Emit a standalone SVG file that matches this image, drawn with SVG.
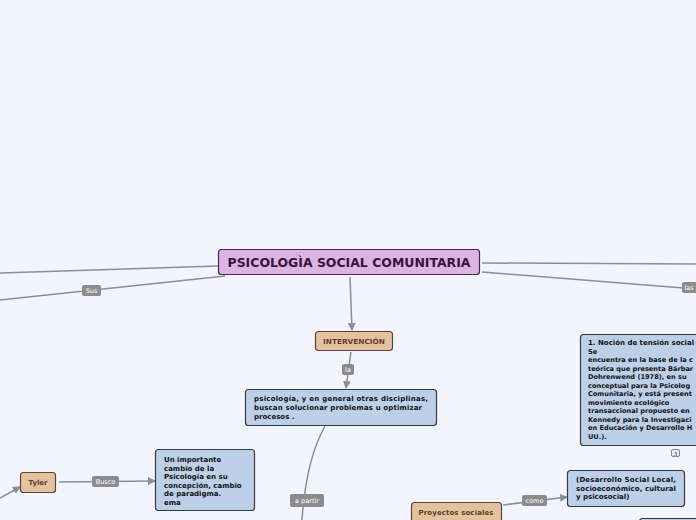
<svg xmlns="http://www.w3.org/2000/svg" width="696" height="520" viewBox="0 0 696 520">
<defs>
<marker id="arr" markerWidth="8" markerHeight="8" refX="7" refY="4" orient="auto" markerUnits="userSpaceOnUse">
<path d="M0,0 L8,4 L0,8 Z" fill="#8a8e96"/>
</marker>
<style>
.ln{fill:none;stroke:#8a8e96;stroke-width:1.5}
.lbl rect{fill:#8c8c8c}
.lbl text{font-family:"DejaVu Sans",Verdana,sans-serif;font-size:6.5px;fill:#ffffff;text-anchor:middle}
.blue{fill:#bdd0e9;stroke:#3a3a3a;stroke-width:1.2}
.tan{fill:#e5c29f;stroke:#5c4636;stroke-width:1.2}
.bt{font-family:"DejaVu Sans",Verdana,sans-serif;font-size:7px;font-weight:bold;fill:#111}
.bs{font-family:"DejaVu Sans",Verdana,sans-serif;font-size:6.6px;font-weight:bold;fill:#111}
.tt{font-family:"DejaVu Sans",Verdana,sans-serif;font-size:7px;font-weight:bold;fill:#5a3e2a;text-anchor:middle}
</style>
</defs>
<rect width="696" height="520" fill="#f2f5fd"/>

<g id="connectors">
<path class="ln" d="M218,266 L0,273"/>
<path class="ln" d="M225,276 L0,300"/>
<path class="ln" d="M482,263 L696,264"/>
<path class="ln" d="M482,272 L696,289"/>
<path class="ln" d="M350,277 L352,330" marker-end="url(#arr)"/>
<path class="ln" d="M351,352 L346,388" marker-end="url(#arr)"/>
<path class="ln" d="M325,426 Q306,460 302,520"/>
<path class="ln" d="M59,482 L155,481" marker-end="url(#arr)"/>
<path class="ln" d="M0,498 L20,487" marker-end="url(#arr)"/>
<path class="ln" d="M503,505 L567,497" marker-end="url(#arr)"/>
<g class="lbl"><rect x="82" y="285" width="19" height="11" rx="2"/><text x="91.5" y="293">Sus</text></g>
<g class="lbl"><rect x="682" y="282" width="16" height="11" rx="2"/><text x="689" y="290">las</text></g>
<g class="lbl"><rect x="342" y="364" width="12" height="11" rx="2"/><text x="348" y="372">la</text></g>
<g class="lbl"><rect x="290" y="494" width="34" height="13" rx="2"/><text x="307" y="503">a partir</text></g>
<g class="lbl"><rect x="92" y="476" width="27" height="11" rx="2"/><text x="105.5" y="484">Busco</text></g>
<g class="lbl"><rect x="522" y="495" width="25" height="11" rx="2"/><text x="534.5" y="503">como</text></g>
</g>

<g id="central">
<rect x="218.5" y="249.5" width="261" height="25" rx="3" fill="#dbb5e1" stroke="#4a2750" stroke-width="1.2"/>
<text x="349" y="266.5" font-family="DejaVu Sans,Verdana,sans-serif" font-size="11.5" font-weight="bold" fill="#3b0f42" text-anchor="middle" textLength="243" lengthAdjust="spacingAndGlyphs">PSICOLOGÌA SOCIAL COMUNITARIA</text>
</g>

<g id="intervencion">
<rect class="tan" x="315.5" y="331.5" width="77" height="19" rx="3"/>
<text class="tt" x="354" y="343.5" textLength="62" lengthAdjust="spacingAndGlyphs">INTERVENCIÓN</text>
</g>

<g id="psicologia">
<rect class="blue" x="245.5" y="389.5" width="191" height="36" rx="3"/>
<text class="bt" x="254" y="401" textLength="174" lengthAdjust="spacing">psicología, y en general otras disciplinas,</text>
<text class="bt" x="254" y="410" textLength="168" lengthAdjust="spacing">buscan solucionar problemas u optimizar</text>
<text class="bt" x="254" y="419">procesos .</text>
</g>

<g id="tyler">
<rect class="tan" x="20.5" y="472.5" width="35" height="20" rx="3"/>
<text class="tt" x="38" y="485">Tyler</text>
</g>

<g id="cambio">
<rect class="blue" x="155.5" y="449.5" width="99" height="61" rx="3"/>
<text class="bt" x="164" y="462">Un importante</text>
<text class="bt" x="164" y="470.5">cambio de la</text>
<text class="bt" x="164" y="479">Psicología en su</text>
<text class="bt" x="164" y="487.5">concepción, cambio</text>
<text class="bt" x="164" y="496">de paradigma.</text>
<text class="bt" x="164" y="504.5">ema</text>
</g>

<g id="tension">
<rect class="blue" x="580.5" y="334.5" width="130" height="111" rx="3"/>
<text class="bt" x="588" y="345">1. Noción de tensión social</text>
<text class="bs" x="588" y="353.5">Se</text>
<text class="bs" x="588" y="362">encuentra en la base de la c</text>
<text class="bs" x="588" y="370.5">teórica que presenta Bárbar</text>
<text class="bs" x="588" y="379">Dohrenwend (1978), en su</text>
<text class="bs" x="588" y="387.5">conceptual para la Psicolog</text>
<text class="bs" x="588" y="396">Comunitaria, y está present</text>
<text class="bs" x="588" y="404.5">movimiento ecológico</text>
<text class="bs" x="588" y="413">transaccional propuesto en</text>
<text class="bs" x="588" y="421.5">Kennedy para la Investigaci</text>
<text class="bs" x="588" y="430">en Educación y Desarrollo H</text>
<text class="bs" x="588" y="438.5">UU.).</text>
<rect x="671.5" y="449.5" width="8" height="7" rx="1.5" fill="#e8ecf5" stroke="#6a6e78" stroke-width="0.8"/>
<text x="675.5" y="455.5" font-family="DejaVu Sans,sans-serif" font-size="5.5" fill="#333" text-anchor="middle">3</text>
</g>

<g id="proyectos">
<rect class="tan" x="411.5" y="502.5" width="90" height="24" rx="3"/>
<text class="tt" x="456" y="515" textLength="75" lengthAdjust="spacing">Proyectos sociales</text>
</g>

<g id="desarrollo">
<rect class="blue" x="567.5" y="470.5" width="117" height="36" rx="3"/>
<text class="bt" x="576" y="482" textLength="100" lengthAdjust="spacing">(Desarrollo Social Local,</text>
<text class="bt" x="576" y="490.5" textLength="100" lengthAdjust="spacing">socioeconómico, cultural</text>
<text class="bt" x="576" y="499">y psicosocial)</text>
</g>

<g id="bottomright">
<rect class="blue" x="639.5" y="518.5" width="80" height="30" rx="3"/>
</g>
</svg>
